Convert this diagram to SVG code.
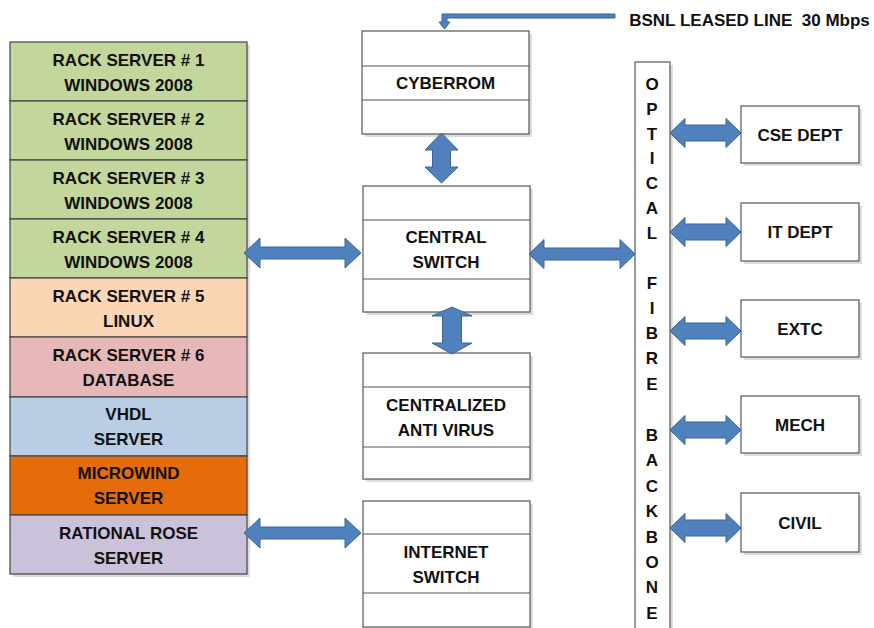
<svg xmlns="http://www.w3.org/2000/svg" width="874" height="628" viewBox="0 0 874 628">
<style>
text{font-family:"Liberation Sans",Arial,sans-serif;font-weight:bold;font-size:17px;fill:#111;text-anchor:middle}
.bx{fill:#fff;stroke:#555;stroke-width:1.2}
.sh{fill:#dcdcdc}
.ln{stroke:#555;stroke-width:1.2}
.row{stroke:#444;stroke-width:1.2}
.ar{fill:#4f81bd;stroke:#3a6496;stroke-width:1}
</style>
<rect width="874" height="628" fill="#fff"/>

<!-- left server column -->
<g id="servers">
<rect x="13" y="45" width="237" height="532" class="sh"/>
<g id="rack1"><rect x="10" y="42" width="237" height="59" fill="#c3d69b" class="row"/><text x="128.5" y="66">RACK SERVER # 1</text><text x="128.5" y="91">WINDOWS 2008</text></g>
<g id="rack2"><rect x="10" y="101" width="237" height="59" fill="#c3d69b" class="row"/><text x="128.5" y="125">RACK SERVER # 2</text><text x="128.5" y="150">WINDOWS 2008</text></g>
<g id="rack3"><rect x="10" y="160" width="237" height="59" fill="#c3d69b" class="row"/><text x="128.5" y="184">RACK SERVER # 3</text><text x="128.5" y="209">WINDOWS 2008</text></g>
<g id="rack4"><rect x="10" y="219" width="237" height="59" fill="#c3d69b" class="row"/><text x="128.5" y="243">RACK SERVER # 4</text><text x="128.5" y="268">WINDOWS 2008</text></g>
<g id="rack5"><rect x="10" y="278" width="237" height="59" fill="#fcd5b5" class="row"/><text x="128.5" y="302">RACK SERVER # 5</text><text x="128.5" y="327">LINUX</text></g>
<g id="rack6"><rect x="10" y="337" width="237" height="60" fill="#e6b9b8" class="row"/><text x="128.5" y="361">RACK SERVER # 6</text><text x="128.5" y="386">DATABASE</text></g>
<g id="vhdl"><rect x="10" y="397" width="237" height="59" fill="#b9cde5" class="row"/><text x="128.5" y="420">VHDL</text><text x="128.5" y="445">SERVER</text></g>
<g id="microwind"><rect x="10" y="456" width="237" height="59" fill="#e46c0a" class="row"/><text x="128.5" y="479">MICROWIND</text><text x="128.5" y="504">SERVER</text></g>
<g id="rationalrose"><rect x="10" y="515" width="237" height="59" fill="#ccc1da" class="row"/><text x="128.5" y="539">RATIONAL ROSE</text><text x="128.5" y="564">SERVER</text></g>
</g>

<!-- middle boxes -->
<g id="cyberrom">
<rect x="365" y="34" width="167" height="103" class="sh"/>
<rect x="362" y="31" width="167" height="103" class="bx"/>
<line x1="362" y1="66" x2="529" y2="66" class="ln"/><line x1="362" y1="100" x2="529" y2="100" class="ln"/>
<text x="445.5" y="89">CYBERROM</text>
</g>
<g id="centralswitch">
<rect x="366" y="189" width="167" height="126" class="sh"/>
<rect x="363" y="186" width="167" height="126" class="bx"/>
<line x1="363" y1="220" x2="530" y2="220" class="ln"/><line x1="363" y1="279" x2="530" y2="279" class="ln"/>
<text x="446" y="243">CENTRAL</text><text x="446" y="268">SWITCH</text>
</g>
<g id="antivirus">
<rect x="366" y="356" width="167" height="126" class="sh"/>
<rect x="363" y="353" width="167" height="126" class="bx"/>
<line x1="363" y1="387" x2="530" y2="387" class="ln"/><line x1="363" y1="447" x2="530" y2="447" class="ln"/>
<text x="446" y="411">CENTRALIZED</text><text x="446" y="436">ANTI VIRUS</text>
</g>
<g id="internetswitch">
<rect x="366" y="504" width="167" height="126" class="sh"/>
<rect x="363" y="501" width="167" height="126" class="bx"/>
<line x1="363" y1="534" x2="530" y2="534" class="ln"/><line x1="363" y1="593" x2="530" y2="593" class="ln"/>
<text x="446" y="558">INTERNET</text><text x="446" y="583">SWITCH</text>
</g>

<!-- optical fibre backbone -->
<g id="backbone">
<rect x="638" y="65" width="35" height="568" class="sh"/>
<rect x="635" y="62" width="35" height="568" class="bx"/>
<text x="652" y="90">O</text><text x="652" y="115">P</text><text x="652" y="140">T</text><text x="652" y="164">I</text><text x="652" y="189">C</text><text x="652" y="214">A</text><text x="652" y="239">L</text>
<text x="652" y="289">F</text><text x="652" y="314">I</text><text x="652" y="339">B</text><text x="652" y="364">R</text><text x="652" y="390">E</text>
<text x="652" y="441">B</text><text x="652" y="466">A</text><text x="652" y="492">C</text><text x="652" y="517">K</text><text x="652" y="543">B</text><text x="652" y="568">O</text><text x="652" y="593">N</text><text x="652" y="619">E</text>
</g>

<!-- departments -->
<g id="cse"><rect x="744" y="109" width="118" height="57" class="sh"/><rect x="741" y="106" width="118" height="57" class="bx"/><text x="800" y="141">CSE DEPT</text></g>
<g id="it"><rect x="744" y="206" width="118" height="58" class="sh"/><rect x="741" y="203" width="118" height="58" class="bx"/><text x="800" y="238">IT DEPT</text></g>
<g id="extc"><rect x="744" y="303" width="118" height="57" class="sh"/><rect x="741" y="300" width="118" height="57" class="bx"/><text x="800" y="335">EXTC</text></g>
<g id="mech"><rect x="744" y="399" width="118" height="57" class="sh"/><rect x="741" y="396" width="118" height="57" class="bx"/><text x="800" y="431">MECH</text></g>
<g id="civil"><rect x="744" y="496" width="118" height="59" class="sh"/><rect x="741" y="493" width="118" height="59" class="bx"/><text x="800" y="529">CIVIL</text></g>

<g id="bsnl"><text x="749.5" y="26" xml:space="preserve" style="white-space:pre">BSNL LEASED LINE  30 Mbps</text></g>

<!-- connectors -->
<g id="connectors">
<path class="ar" d="M615 14 L442 14 L442 22 L439 22 L444.5 29 L450 22 L447 22 L447 18 L615 18 Z"/>
<path class="ar" d="M441.5 133 L458 150 L450.5 150 L450.5 167 L458 167 L441.5 183 L425 167 L432.5 167 L432.5 150 L425 150 Z"/>
<path class="ar" d="M452 307 L472 316 L461.5 316 L461.5 343 L472 343 L452 354 L432 343 L442.5 343 L442.5 316 L432 316 Z"/>
<path class="ar" d="M244 253 L260 238 L260 247 L345 247 L345 238 L361 253 L345 268 L345 259 L260 259 L260 268 Z"/>
<path class="ar" d="M244 533 L260 518 L260 527 L345 527 L345 518 L361 533 L345 548 L345 539 L260 539 L260 548 Z"/>
<path class="ar" d="M529 254 L544 239.5 L544 248 L620 248 L620 239.5 L635 254 L620 268.5 L620 260 L544 260 L544 268.5 Z"/>
<path class="ar" d="M670 133 L685 118.5 L685 125 L726 125 L726 118.5 L741 133 L726 147.5 L726 141 L685 141 L685 147.5 Z"/>
<path class="ar" d="M670 232 L685 217.5 L685 224 L726 224 L726 217.5 L741 232 L726 246.5 L726 240 L685 240 L685 246.5 Z"/>
<path class="ar" d="M670 331 L685 316.5 L685 323 L726 323 L726 316.5 L741 331 L726 345.5 L726 339 L685 339 L685 345.5 Z"/>
<path class="ar" d="M670 430 L685 415.5 L685 422 L726 422 L726 415.5 L741 430 L726 444.5 L726 438 L685 438 L685 444.5 Z"/>
<path class="ar" d="M670 528 L685 513.5 L685 520 L726 520 L726 513.5 L741 528 L726 542.5 L726 536 L685 536 L685 542.5 Z"/>
</g>
</svg>
